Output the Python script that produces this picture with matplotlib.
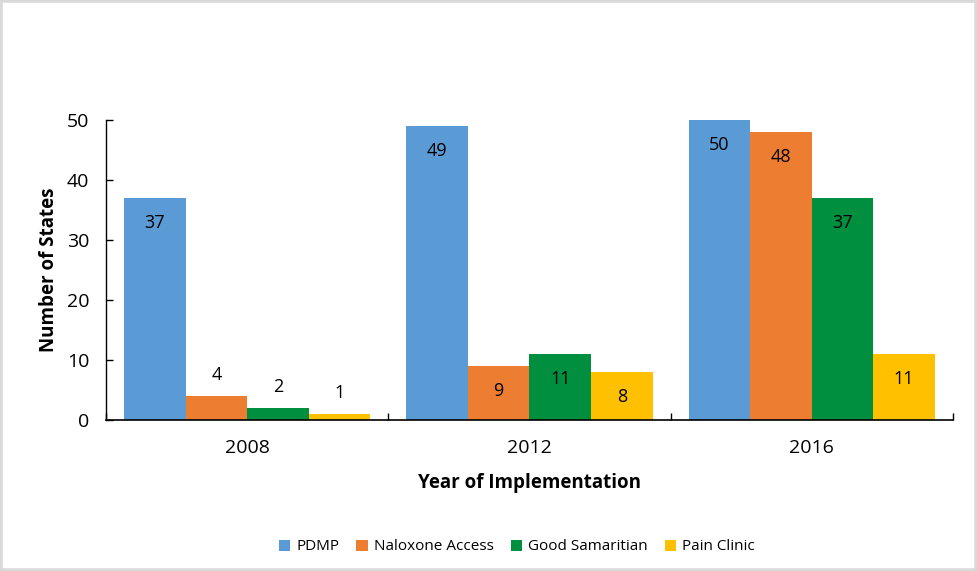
import numpy as np
import matplotlib.pyplot as plt
from matplotlib.patches import Rectangle

plt.rcParams['font.family'] = ['Open Sans', 'DejaVu Sans']

years = ['2008', '2012', '2016']
series = ['PDMP', 'Naloxone Access', 'Good Samaritian', 'Pain Clinic']
pdmp = [37, 49, 50]
naloxone = [4, 9, 48]
samaritan = [2, 11, 37]
pain_clinic = [1, 8, 11]
colors = ['#5B9BD5', '#ED7D31', '#008F3E', '#FFC000']

fig = plt.figure(figsize=(9.77, 5.71), dpi=100)
ax = fig.add_axes([0.1085, 0.2644, 0.8669, 0.5254])

x = np.arange(len(years))
w = 0.218
values = [pdmp, naloxone, samaritan, pain_clinic]
for i, (vals, name, c) in enumerate(zip(values, series, colors)):
    pos = x + (i - 1.5) * w
    bars = ax.bar(pos, vals, width=w, color=c, label=name, zorder=2)
    for b, v in zip(bars, vals):
        cx = b.get_x() + b.get_width() / 2
        # tall bars get the label inside the top, short ones above it
        dy = -18 if v >= 5 else 15
        ax.annotate(str(v), (cx, v), xytext=(0, dy), textcoords='offset points',
                    ha='center', va='center', fontsize=13, color='black')

ax.set_xlim(-0.5, 2.5)
ax.set_ylim(0, 50)
ax.set_yticks(range(0, 51, 10))
ax.set_xticks(x)
ax.set_xticklabels(years)
ax.set_xticks([-0.5, 0.5, 1.5, 2.5], minor=True)
ax.tick_params(axis='x', which='major', length=0, labelsize=14, pad=14)
ax.tick_params(axis='x', which='minor', direction='in', length=5, width=1)
ax.tick_params(axis='y', direction='in', length=5, width=1, labelsize=14, pad=12)

for s in ['top', 'right']:
    ax.spines[s].set_visible(False)
ax.spines['left'].set_linewidth(1)
ax.spines['bottom'].set_linewidth(1.2)

ax.set_ylabel('Number of States', fontsize=13.5, fontweight='bold', labelpad=6)
ax.set_xlabel('Year of Implementation', fontsize=13.5, fontweight='bold', labelpad=11)

ax.legend(loc='center', bbox_to_anchor=(517 / 977, 1 - 547 / 571),
          bbox_transform=fig.transFigure, ncol=4, frameon=False, fontsize=11,
          handlelength=0.75, handleheight=0.75, handletextpad=0.4, columnspacing=1.1)

fig.patches.append(Rectangle((0, 0), 1, 1, transform=fig.transFigure, fill=False,
                             edgecolor='#d9d9d9', linewidth=4))

fig.savefig('out.png', dpi=100)
